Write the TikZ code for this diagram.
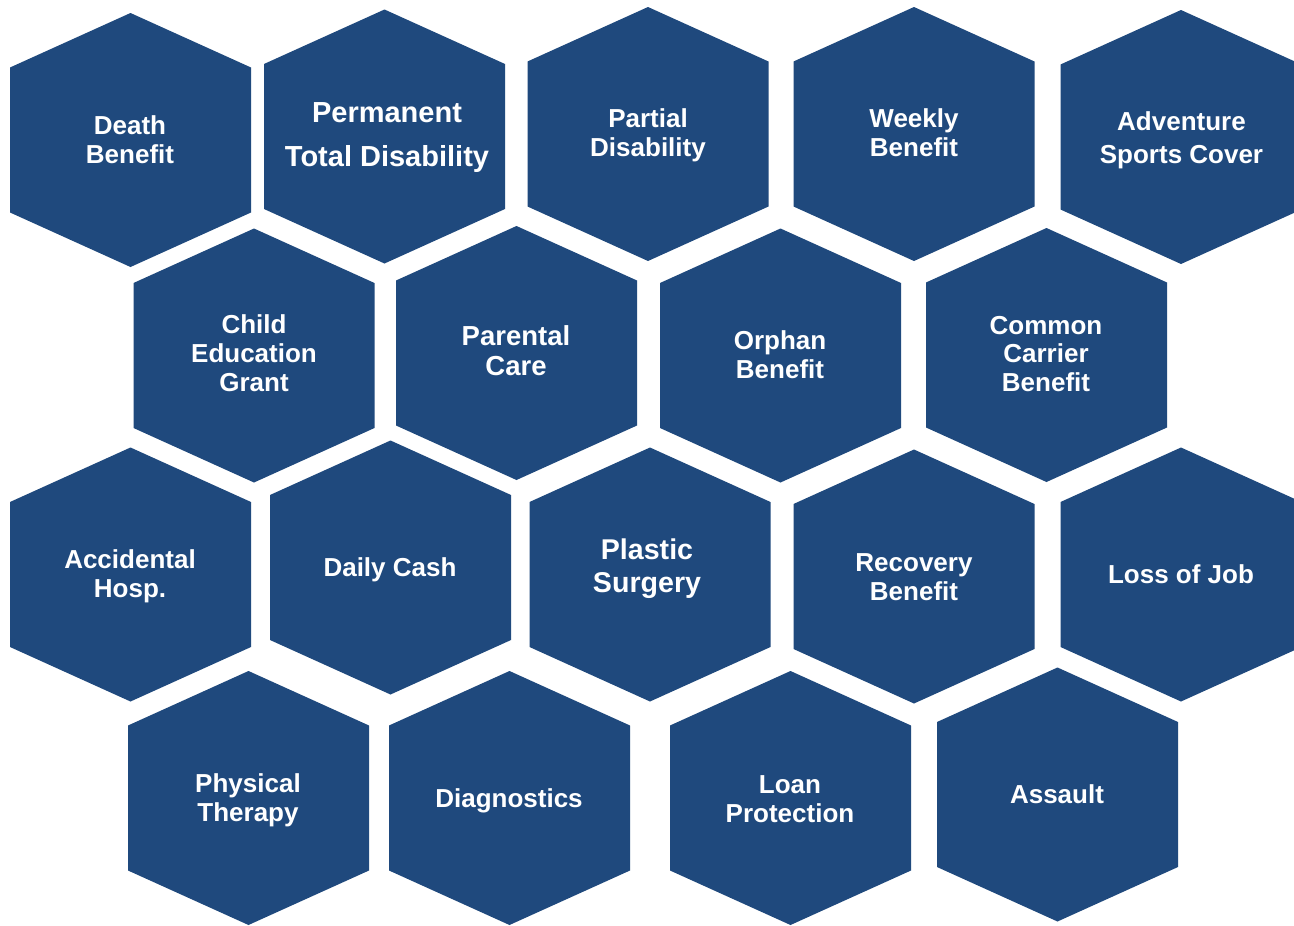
\documentclass[tikz,border=0pt]{standalone}
\usepackage{fontspec}
\setmainfont{Liberation Sans}
\usepackage{xcolor}
\definecolor{hexblue}{HTML}{1F497D}
\tikzset{
  hexcell/.style  = {insert path = {+(0,-127) -- +(120.5,-72.5) -- +(120.5,72.5) -- +(0,127) -- +(-120.5,72.5) -- +(-120.5,-72.5) -- cycle}},
  celltext/.style = {
    text      = white,
    align     = center,
    inner sep = 0pt,
    anchor    = base,
    font      = \bfseries\fontsize{26}{29}\selectfont
  },
  bigtext/.style  = {font = \bfseries\fontsize{29}{44}\selectfont}
}

\begin{document}
\begin{tikzpicture}[x=1pt, y=-1pt]

\useasboundingbox (0,0) rectangle (1294,926);
\fill[white] (0,0) rectangle (1294,926);
\clip (0,0) rectangle (1294,926);

% Row 1
% Death Benefit
\fill[hexblue] (130.5,140) [hexcell];
\node[celltext] (death) at (130,163) {Death\\Benefit};

% Permanent Total Disability
\fill[hexblue] (384.5,136.5) [hexcell];
\node[celltext, bigtext] (permanent) at (387,166.7) {Permanent\\Total Disability};

% Partial Disability
\fill[hexblue] (648,134) [hexcell];
\node[celltext] (partial) at (648,156.3) {Partial\\Disability};

% Weekly Benefit
\fill[hexblue] (914,134) [hexcell];
\node[celltext] (weekly) at (914,156.3) {Weekly\\Benefit};

% Adventure Sports Cover
\fill[hexblue] (1181,137) [hexcell];
\node[celltext, font=\bfseries\fontsize{26}{33}\selectfont] (adventure) at (1181.5,163) {Adventure\\Sports Cover};

% Row 2
% Child Education Grant
\fill[hexblue] (254,355.5) [hexcell];
\node[celltext] (child) at (254,391.3) {Child\\Education\\Grant};

% Parental Care
\fill[hexblue] (516.5,353) [hexcell];
\node[celltext, font=\bfseries\fontsize{27.5}{30}\selectfont] (parental) at (516,375.7) {Parental\\Care};

% Orphan Benefit
\fill[hexblue] (780.5,355.5) [hexcell];
\node[celltext] (orphan) at (780,378.3) {Orphan\\Benefit};

% Common Carrier Benefit
\fill[hexblue] (1046.5,355) [hexcell];
\node[celltext, font=\bfseries\fontsize{26}{28.5}\selectfont] (carrier) at (1046,391) {Common\\Carrier\\Benefit};

% Row 3
% Accidental Hosp.
\fill[hexblue] (130.5,574.5) [hexcell];
\node[celltext] (accident) at (130,597.3) {Accidental\\Hosp.};

% Daily Cash
\fill[hexblue] (390.5,567.5) [hexcell];
\node[celltext] (cash) at (390,576.3) {Daily Cash};

% Plastic Surgery
\fill[hexblue] (650,574.5) [hexcell];
\node[celltext, font=\bfseries\fontsize{28.6}{33.4}\selectfont] (plastic) at (647,592.7) {Plastic\\Surgery};

% Recovery Benefit
\fill[hexblue] (914,576.5) [hexcell];
\node[celltext] (recovery) at (914,600.3) {Recovery\\Benefit};

% Loss of Job
\fill[hexblue] (1181,574.5) [hexcell];
\node[celltext] (job) at (1181,583.3) {Loss of Job};

% Row 4
% Physical Therapy
\fill[hexblue] (248.5,798) [hexcell];
\node[celltext] (physio) at (248,821.7) {Physical\\Therapy};

% Diagnostics
\fill[hexblue] (509.5,798) [hexcell];
\node[celltext] (diag) at (509,807.3) {Diagnostics};

% Loan Protection
\fill[hexblue] (790.5,798) [hexcell];
\node[celltext] (loan) at (790,822.3) {Loan\\Protection};

% Assault
\fill[hexblue] (1057.5,794.5) [hexcell];
\node[celltext] (assault) at (1057,803.3) {Assault};

\end{tikzpicture}
\end{document}
